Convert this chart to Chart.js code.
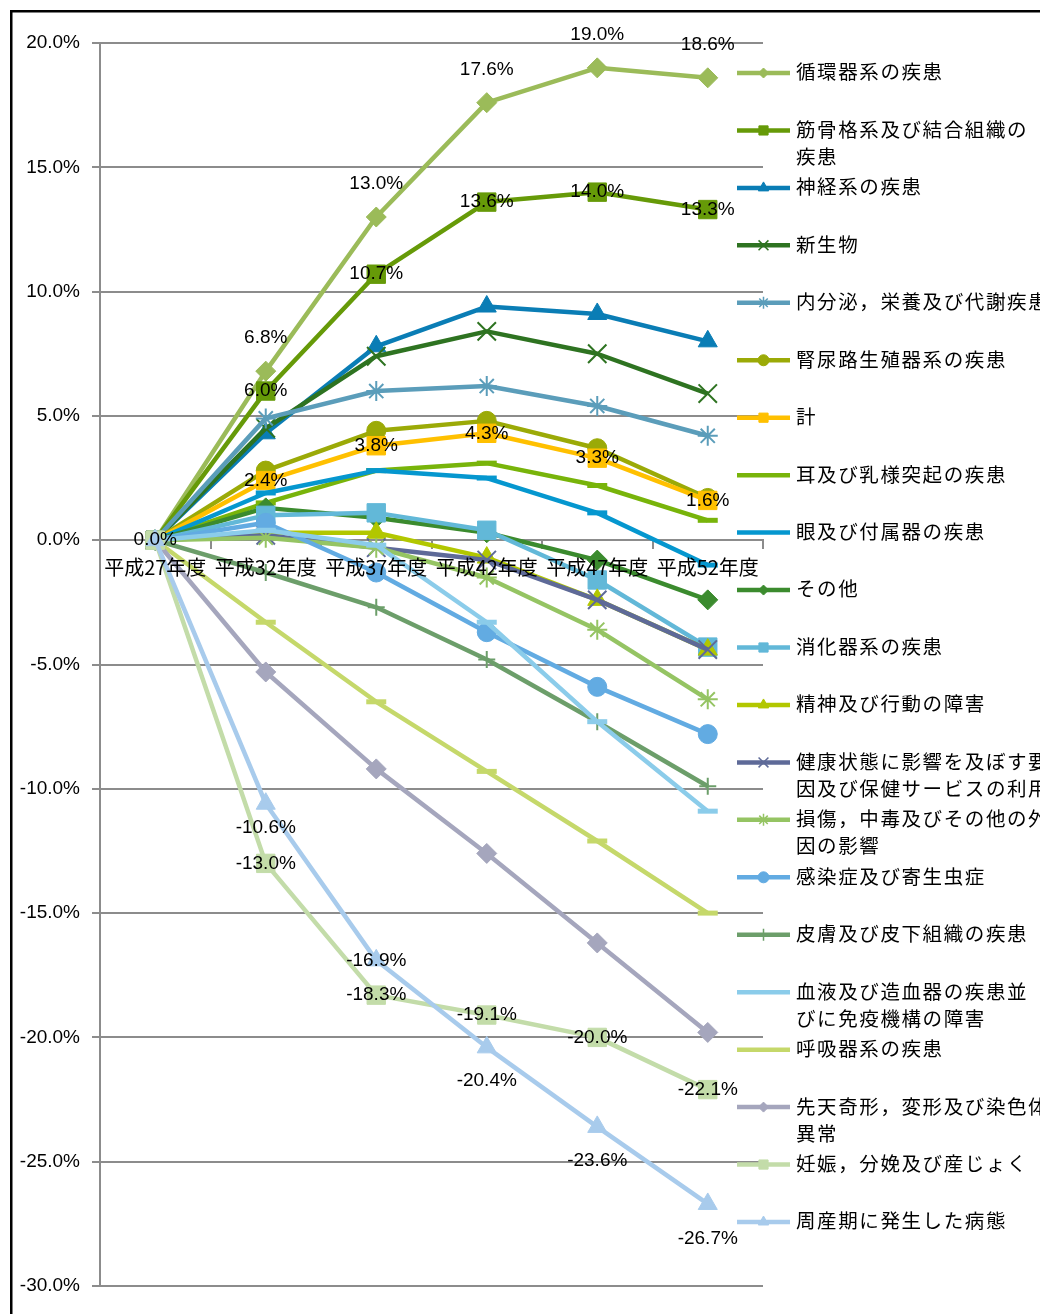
<!DOCTYPE html>
<html><head><meta charset="utf-8">
<script src="https://cdn.jsdelivr.net/npm/chart.js@4/dist/chart.umd.min.js"></script>
<style>html,body{margin:0;padding:0;background:#fff;overflow:hidden}canvas{display:block}</style>
</head><body>
<canvas id="c" width="1040" height="1314"></canvas>
<script>
// ---------- DATA ----------
const categories = ['平成27年度','平成32年度','平成37年度','平成42年度','平成47年度','平成52年度'];
const seriesNames = [
  '循環器系の疾患','筋骨格系及び結合組織の疾患','神経系の疾患','新生物','内分泌，栄養及び代謝疾患',
  '腎尿路生殖器系の疾患','計','耳及び乳様突起の疾患','眼及び付属器の疾患','その他','消化器系の疾患',
  '精神及び行動の障害','健康状態に影響を及ぼす要因及び保健サービスの利用','損傷，中毒及びその他の外因の影響',
  '感染症及び寄生虫症','皮膚及び皮下組織の疾患','血液及び造血器の疾患並びに免疫機構の障害','呼吸器系の疾患',
  '先天奇形，変形及び染色体異常','妊娠，分娩及び産じょく','周産期に発生した病態'
];
const legendLines = [
  ['循環器系の疾患'],['筋骨格系及び結合組織の','疾患'],['神経系の疾患'],['新生物'],['内分泌，栄養及び代謝疾患'],
  ['腎尿路生殖器系の疾患'],['計'],['耳及び乳様突起の疾患'],['眼及び付属器の疾患'],['その他'],['消化器系の疾患'],
  ['精神及び行動の障害'],['健康状態に影響を及ぼす要','因及び保健サービスの利用'],['損傷，中毒及びその他の外','因の影響'],
  ['感染症及び寄生虫症'],['皮膚及び皮下組織の疾患'],['血液及び造血器の疾患並','びに免疫機構の障害'],['呼吸器系の疾患'],
  ['先天奇形，変形及び染色体','異常'],['妊娠，分娩及び産じょく'],['周産期に発生した病態']
];
const circulatory     = [0.0,   6.8,  13.0,  17.6,  19.0,  18.6];
const musculoskeletal = [0.0,   6.0,  10.7,  13.6,  14.0,  13.3];
const nervous         = [0.0,   4.3,   7.8,   9.4,   9.1,   8.0];
const neoplasms       = [0.0,   4.5,   7.4,   8.4,   7.5,   5.9];
const endocrine       = [0.0,   4.9,   6.0,   6.2,   5.4,   4.2];
const genitourinary   = [0.0,   2.8,   4.4,   4.8,   3.7,   1.7];
const total           = [0.0,   2.4,   3.8,   4.3,   3.3,   1.6];
const ear             = [0.0,   1.5,   2.8,   3.1,   2.2,   0.8];
const eye             = [0.0,   1.9,   2.8,   2.5,   1.1,  -1.0];
const other           = [0.0,   1.3,   0.9,   0.3,  -0.8,  -2.4];
const digestive       = [0.0,   1.0,   1.1,   0.4,  -1.6,  -4.3];
const mental          = [0.0,   0.3,   0.3,  -0.7,  -2.4,  -4.4];
const healthFactors   = [0.0,   0.2,  -0.3,  -0.8,  -2.4,  -4.4];
const injury          = [0.0,   0.1,  -0.3,  -1.5,  -3.6,  -6.4];
const infectious      = [0.0,   0.7,  -1.3,  -3.7,  -5.9,  -7.8];
const skin            = [0.0,  -1.3,  -2.7,  -4.8,  -7.3,  -9.9];
const blood           = [0.0,   0.4,  -0.2,  -3.3,  -7.3, -10.9];
const respiratory     = [0.0,  -3.3,  -6.5,  -9.3, -12.1, -15.0];
const congenital      = [0.0,  -5.3,  -9.2, -12.6, -16.2, -19.8];
const pregnancy       = [0.0, -13.0, -18.3, -19.1, -20.0, -22.1];
const perinatal       = [0.0, -10.6, -16.9, -20.4, -23.6, -26.7];
const seriesData = [circulatory,musculoskeletal,nervous,neoplasms,endocrine,genitourinary,total,ear,eye,other,
  digestive,mental,healthFactors,injury,infectious,skin,blood,respiratory,congenital,pregnancy,perinatal];

// ---------- STYLE ----------
const colors = ['#9BBB59','#669A08','#0A7DB5','#2E7321','#5B9DBA','#9BAA07','#FFC000','#78B40A','#0597CF','#3B8B2E',
  '#62B8D8','#B2C700','#5E6A98','#95C463','#62ABE2','#6C9E6A','#8BCCEA','#C5D86A','#A5A6BD','#C3DCA9','#A8CBEC'];
const markers = ['rectRot','rect','triangle','crossRot','star','circle','rect','line','line','rectRot',
  'rect','triangle','crossRot','star','circle','cross','line','line','rectRot','rect','triangle'];
const markerSize = {rectRot:10, rect:13, triangle:11, crossRot:13, star:10, circle:9.5, line:10, cross:8.5};
const markerBorder = {rectRot:1, rect:1, triangle:1, crossRot:2, star:2, circle:1, line:5, cross:2};
const legendMarkerSize = {rectRot:5, rect:6.5, triangle:6, crossRot:7, star:6, circle:5.5, line:0, cross:6};
const legendMarkerBorder = {rectRot:1, rect:1, triangle:1, crossRot:1.5, star:1.5, circle:1, line:0, cross:1.5};
// data label placement (index of series -> rule)
const labelRules = {
  0:  {from:1, dy:[0,-33,-33,-33,-33,-33]},
  1:  {from:1, dy:[0,0,0,0,0,0]},
  6:  {from:0, dy:[0,0,0,0,0,0]},
  19: {from:1, dy:[0,0,0,0,0,0]},
  20: {from:1, dy:[0,24,0,33,34,35]}
};
const numFont = '"Liberation Sans", Arial, sans-serif';
const jpFont = '"Noto Sans CJK JP", "Noto Sans", sans-serif';

const framePlugin = {
  id:'frame',
  beforeDraw(chart){
    const ctx = chart.ctx;
    ctx.save();
    ctx.fillStyle = '#fff';
    ctx.fillRect(0,0,chart.width,chart.height);
    ctx.strokeStyle = '#000';
    ctx.lineWidth = 2.5;
    ctx.strokeRect(11.25,11.25,3000,3000);
    ctx.restore();
  }
};

const labelPlugin = {
  id:'dataLabels',
  afterDatasetsDraw(chart){
    const ctx = chart.ctx;
    ctx.save();
    // category labels on top of the lines
    const xs = chart.scales.x, ys = chart.scales.y;
    const y0 = ys.getPixelForValue(0);
    ctx.font = '20px ' + jpFont;
    ctx.fillStyle = '#000';
    ctx.textAlign = 'center';
    ctx.textBaseline = 'middle';
    chart.data.labels.forEach((lb, i) => ctx.fillText(lb, xs.getPixelForValue(i), y0 + 27));
    // data labels
    ctx.font = '19px ' + numFont;
    Object.keys(labelRules).forEach(k => {
      const i = +k, rule = labelRules[k];
      const meta = chart.getDatasetMeta(i);
      const data = chart.data.datasets[i].data;
      meta.data.forEach((pt, j) => {
        if (j < rule.from) return;
        ctx.fillText(data[j].toFixed(1) + '%', pt.x, pt.y + rule.dy[j]);
      });
    });
    ctx.restore();
  }
};

function drawMarker(ctx, style, r, bw, x, y){
  if (!style || r <= 0) return;
  if (Chart.helpers && Chart.helpers.drawPoint) {
    Chart.helpers.drawPoint(ctx, {pointStyle:style, radius:r, borderWidth:bw, rotation:0}, x, y);
  }
}

const legendPlugin = {
  id:'sideLegend',
  afterDraw(chart){
    const ctx = chart.ctx;
    const top = 72, step = 57.45, x0 = 737, x1 = 790, tx = 796, lineGap = 27;
    ctx.save();
    seriesNames.forEach((name, i) => {
      const y = top + i * step;
      ctx.strokeStyle = colors[i];
      ctx.fillStyle = colors[i];
      ctx.lineWidth = 4.5;
      ctx.lineCap = 'butt';
      ctx.beginPath();
      ctx.moveTo(x0, y + 1);
      ctx.lineTo(x1, y + 1);
      ctx.stroke();
      const m = markers[i];
      ctx.lineWidth = legendMarkerBorder[m];
      drawMarker(ctx, m, legendMarkerSize[m], legendMarkerBorder[m], (x0 + x1) / 2, y + 1);
      ctx.fillStyle = '#000';
      ctx.font = '19.5px ' + jpFont;
      try { ctx.letterSpacing = '1.6px'; } catch(e) {}
      ctx.textAlign = 'left';
      ctx.textBaseline = 'middle';
      legendLines[i].forEach((ln, k) => ctx.fillText(ln, tx, y + k * lineGap));
      try { ctx.letterSpacing = '0px'; } catch(e) {}
    });
    ctx.restore();
  }
};

const datasets = seriesNames.map((name, i) => {
  const m = markers[i];
  return {
    label: name,
    data: seriesData[i],
    borderColor: colors[i],
    backgroundColor: colors[i],
    pointBackgroundColor: colors[i],
    pointBorderColor: colors[i],
    borderWidth: 4.5,
    borderJoinStyle: 'round',
    pointStyle: m,
    pointRadius: markerSize[m],
    pointHoverRadius: markerSize[m],
    pointBorderWidth: markerBorder[m],
    tension: 0,
    order: -i,
    clip: false
  };
});

new Chart(document.getElementById('c'), {
  type: 'line',
  data: { labels: categories, datasets },
  options: {
    responsive: false,
    animation: false,
    devicePixelRatio: 1,
    layout: { padding: { top: 43, right: 277, bottom: 28, left: 0 } },
    plugins: { legend: { display: false }, tooltip: { enabled: false } },
    scales: {
      x: {
        type: 'category',
        offset: true,
        position: { y: 0 },
        ticks: { autoSkip: false, maxRotation: 0, minRotation: 0, color: 'rgba(0,0,0,0)',
                 font: { family: jpFont, size: 20 }, padding: 8 },
        grid: { offset: true, drawOnChartArea: false, drawTicks: true, tickLength: 8,
                color: '#8c8c8c', lineWidth: 2 },
        border: { color: '#8c8c8c', width: 2 }
      },
      y: {
        min: -30, max: 20,
        ticks: { stepSize: 5, color: '#000', font: { family: numFont, size: 19 }, padding: 12,
                 callback: v => v.toFixed(1) + '%' },
        grid: { color: '#8c8c8c', lineWidth: 2, tickLength: 8, drawTicks: true },
        border: { color: '#8c8c8c', width: 2 },
        afterFit: s => { s.width = 100; }
      }
    }
  },
  plugins: [framePlugin, labelPlugin, legendPlugin]
});
</script>
</body></html>
